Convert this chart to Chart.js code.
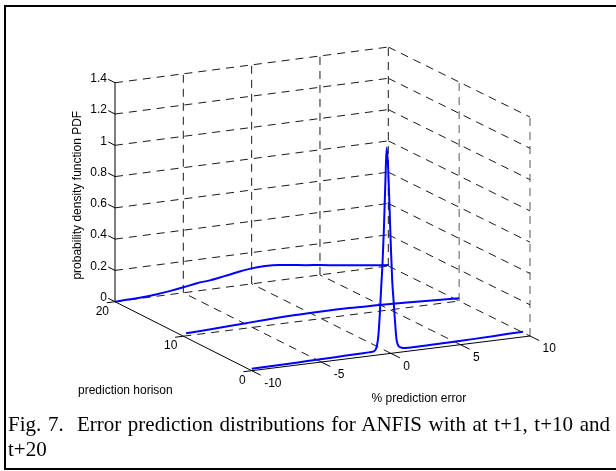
<!DOCTYPE html>
<html><head><meta charset="utf-8">
<script src="https://cdn.jsdelivr.net/npm/chart.js@4.4.0/dist/chart.umd.min.js"></script>
<style>
html,body{margin:0;padding:0;background:#fff;width:616px;height:471px;overflow:hidden;}
#frame{position:absolute;left:4px;top:5px;width:640px;height:461px;border-left:2px solid #000;border-top:2px solid #000;border-bottom:2px solid #000;}
#wrap{position:absolute;left:0;top:0;width:616px;height:471px;}
#cap{position:absolute;left:8px;top:412px;width:602px;font-family:"Liberation Serif","Times New Roman",serif;font-size:21px;line-height:25px;text-align:justify;color:#000;}
</style></head><body>
<div id="frame"></div>
<div id="wrap"><canvas id="c" width="616" height="471"></canvas></div>
<div id="cap">Fig. 7.&nbsp; Error prediction distributions for ANFIS with at t+1, t+10 and t+20</div>
<script>
// ---- data ----
const errTicks = [-10, -5, 0, 5, 10];
const errTickLabels = ['-10', '-5', '0', '5', '10'];
const horTicks = [0, 10, 20];
const horTickLabels = ['0', '10', '20'];
const pdfTicks = [0, 0.2, 0.4, 0.6, 0.8, 1, 1.2, 1.4];
const pdfTickLabels = ['0', '0.2', '0.4', '0.6', '0.8', '1', '1.2', '1.4'];

const horizons = [0, 10, 20];

const err_t1 = [-10, -8, -6, -4, -2, -1.6, -1.3, -1.1, -1.0, -0.9, -0.8, -0.7, -0.6, -0.5, -0.4, -0.3, -0.2, -0.1, 0.0, 0.1, 0.2, 0.3, 0.4, 0.5, 0.7, 0.9, 2, 4, 6, 8, 9.5];
const pdf_t1 = [0.012, 0.014, 0.017, 0.020, 0.023, 0.024, 0.025, 0.035, 0.06, 0.12, 0.25, 0.42, 0.58, 0.80, 1.08, 1.32, 1.20, 0.95, 0.68, 0.46, 0.33, 0.20, 0.09, 0.05, 0.03, 0.024, 0.022, 0.024, 0.026, 0.030, 0.033];

const err_t10 = [-9.8, -8, -6, -4, -2, 0, 2, 4, 6, 8, 10];
const pdf_t10 = [0.016, 0.022, 0.030, 0.038, 0.044, 0.046, 0.045, 0.040, 0.034, 0.026, 0.018];

const err_t20 = [-10, -9, -8, -7, -6, -5, -4, -3, -2, -1, 0, 1, 2, 3, 4, 5, 6, 7, 8, 9, 10];
const pdf_t20 = [0.0, 0.002, 0.006, 0.012, 0.022, 0.035, 0.05, 0.058, 0.072, 0.087, 0.099, 0.103, 0.098, 0.086, 0.074, 0.063, 0.051, 0.039, 0.027, 0.016, 0.006];

// ---- 3D view (orthographic-like projection onto the 2D chart scales) ----
const xLim = [-10, 10], yLim = [0, 20], zLim = [0, 1.4];
const FL = [251.7, 370.7], FR = [530, 336], BL = [115, 301.7], BR = [388.3, 266];
const ZPX = 156.4;
function proj(x, y, z) {
  const u = (x - xLim[0]) / (xLim[1] - xLim[0]);
  const v = (y - yLim[0]) / (yLim[1] - yLim[0]);
  const px = (1-u)*(1-v)*FL[0] + u*(1-v)*FR[0] + (1-u)*v*BL[0] + u*v*BR[0];
  const py = (1-u)*(1-v)*FL[1] + u*(1-v)*FR[1] + (1-u)*v*BL[1] + u*v*BR[1] - z*ZPX;
  return {x: px, y: py};
}

const datasets = [];
function curve(errs, pdfs, h) {
  datasets.push({
    data: errs.map((e, i) => proj(e, h, pdfs[i])),
    showLine: true, borderColor: 'rgb(0,0,255)', borderWidth: 2,
    pointRadius: 0, cubicInterpolationMode: 'monotone', order: 0
  });
}
curve(err_t1, pdf_t1, horizons[0]);
curve(err_t10, pdf_t10, horizons[1]);
curve(err_t20, pdf_t20, horizons[2]);

function seg(a, b, style) {
  datasets.push(Object.assign({
    data: [proj(a[0], a[1], a[2]), proj(b[0], b[1], b[2])],
    showLine: true, pointRadius: 0, borderWidth: 1, order: 5
  }, style));
}
const DASH = {borderColor: 'rgba(0,0,0,0.9)', borderDash: [8, 6], order: 10};
const DASHG = {borderColor: 'rgba(70,70,70,0.9)', borderDash: [8, 6], order: 10};
const SOLID = {borderColor: '#000', order: 5};

// back wall (y = 20)
pdfTicks.forEach(z => seg([xLim[0], yLim[1], z], [xLim[1], yLim[1], z], DASH));
errTicks.slice(1).forEach(x => seg([x, yLim[1], zLim[0]], [x, yLim[1], zLim[1]], DASH));
// right wall (x = 10)
pdfTicks.forEach(z => seg([xLim[1], yLim[1], z], [xLim[1], yLim[0], z], DASH));
horTicks.slice(0, 2).forEach(y => seg([xLim[1], y, zLim[0]], [xLim[1], y, zLim[1]], DASHG));
// floor (z = 0)
errTicks.slice(1, 4).forEach(x => seg([x, yLim[0], 0], [x, yLim[1], 0], DASH));
seg([xLim[0], 10, 0], [xLim[1], 10, 0], DASH);

// axes
seg([xLim[0], yLim[1], zLim[0]], [xLim[0], yLim[1], zLim[1]], SOLID);
seg([xLim[0], yLim[1], 0], [xLim[0], yLim[0], 0], SOLID);
seg([xLim[0], yLim[0], 0], [xLim[1], yLim[0], 0], SOLID);
// ticks
pdfTicks.forEach(z => seg([xLim[0], yLim[1], z], [xLim[0], yLim[1] + 1.0, z], SOLID));
errTicks.forEach(x => seg([x, yLim[0], 0], [x, yLim[0] - 1.3, 0], SOLID));
horTicks.forEach(y => seg([xLim[0], y, 0], [xLim[0] - 0.6, y, 0], SOLID));

const labelPlugin = {
  id: 'labels3d',
  afterDraw(chart) {
    const ctx = chart.ctx, sx = chart.scales.x, sy = chart.scales.y;
    const P = (x, y, z) => { const p = proj(x, y, z); return [sx.getPixelForValue(p.x), sy.getPixelForValue(p.y)]; };
    ctx.save();
    ctx.fillStyle = '#000';
    ctx.font = '12px "Liberation Sans", Arial, sans-serif';
    ctx.textBaseline = 'middle';
    ctx.textAlign = 'right';
    pdfTicks.forEach((z, i) => { const [a, b] = P(xLim[0], yLim[1], z); ctx.fillText(pdfTickLabels[i], a - 8, b - 4); });
    horTicks.forEach((y, i) => { const [a, b] = P(xLim[0], y, 0); ctx.fillText(horTickLabels[i], a - 6, b + 9.5); });
    ctx.textAlign = 'left';
    errTicks.forEach((x, i) => { const [a, b] = P(x, yLim[0], 0); ctx.fillText(errTickLabels[i], a + 12.5, b + 13); });
    // axis titles
    ctx.textAlign = 'center';
    ctx.textBaseline = 'alphabetic';
    let [a, b] = P(xLim[0], 10, 0);
    ctx.fillText('prediction horison', a - 58, b + 58);
    [a, b] = P(0, yLim[0], 0);
    ctx.fillText('% prediction error', a + 28, b + 49);
    [a, b] = P(xLim[0], yLim[1], 0.7);
    ctx.translate(a - 34.5, b + 3);
    ctx.rotate(-Math.PI / 2);
    ctx.fillText('probability density function PDF', 0, 0);
    ctx.restore();
  }
};

new Chart(document.getElementById('c'), {
  type: 'scatter',
  data: {datasets},
  options: {
    responsive: false, animation: false,
    layout: {padding: 0},
    scales: {
      x: {type: 'linear', min: 0, max: 616, display: false},
      y: {type: 'linear', min: 0, max: 471, reverse: true, display: false}
    },
    plugins: {legend: {display: false}, tooltip: {enabled: false}},
    elements: {point: {radius: 0}}
  },
  plugins: [labelPlugin]
});
</script>
</body></html>
